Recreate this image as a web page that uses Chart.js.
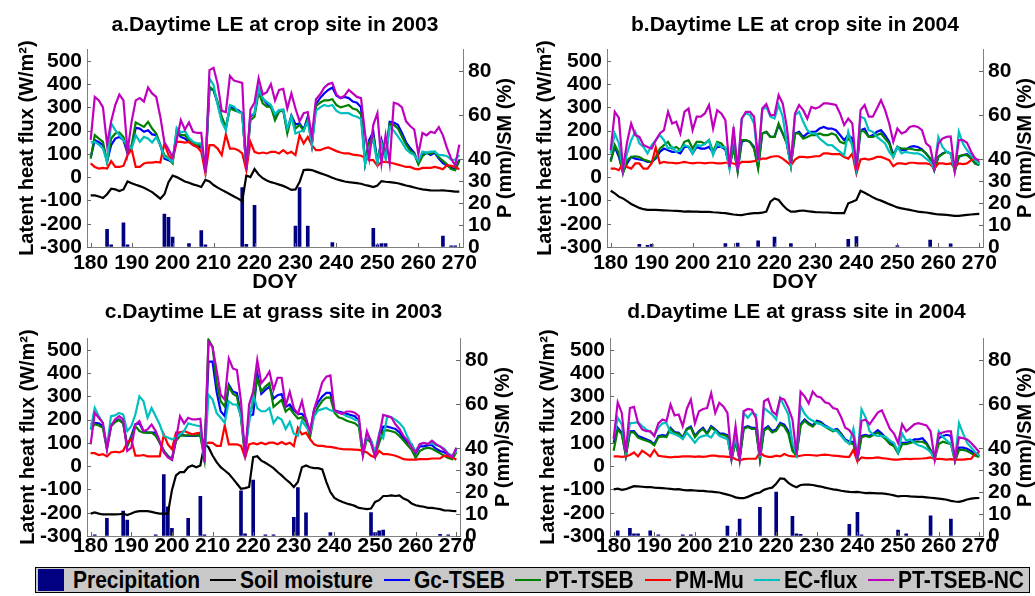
<!DOCTYPE html>
<html><head><meta charset="utf-8">
<script src="https://cdn.jsdelivr.net/npm/chart.js@4"></script>
<style>
body{margin:0;background:#fff;width:1035px;height:596px;overflow:hidden;position:relative;font-family:"Liberation Sans",Arial,sans-serif}
.panel{position:absolute}
#legend{position:absolute;left:35px;top:567px;width:995px;height:26px;background:#c8c8c8;border:1px solid #000;box-sizing:border-box}
.lt{position:absolute;top:0;height:24px;line-height:24px;font-weight:bold;font-size:24px;white-space:nowrap;transform:scaleX(0.875);transform-origin:left center;color:#000}
.ln{position:absolute;top:11px;height:2px;width:26px}
</style></head><body>
<div class="panel" style="left:0;top:0;width:520px;height:296px"><canvas id="ca"></canvas></div>
<div class="panel" style="left:517px;top:0;width:518px;height:296px"><canvas id="cb"></canvas></div>
<div class="panel" style="left:0;top:296px;width:520px;height:269px"><canvas id="cc"></canvas></div>
<div class="panel" style="left:517px;top:296px;width:518px;height:269px"><canvas id="cd"></canvas></div>
<div id="legend">
  <div style="position:absolute;left:2px;top:1px;width:26px;height:22px;background:#000080"></div>
  <div class="lt" style="left:37px">Precipitation</div>
  <div class="ln" style="left:174px;background:#000"></div>
  <div class="lt" style="left:204px">Soil moisture</div>
  <div class="ln" style="left:348px;background:#0000ff"></div>
  <div class="lt" style="left:378px">Gc-TSEB</div>
  <div class="ln" style="left:479px;background:#008000"></div>
  <div class="lt" style="left:509px">PT-TSEB</div>
  <div class="ln" style="left:609px;background:#ff0000"></div>
  <div class="lt" style="left:639px">PM-Mu</div>
  <div class="ln" style="left:718px;background:#00bfbf"></div>
  <div class="lt" style="left:748px">EC-flux</div>
  <div class="ln" style="left:832px;background:#bf00bf"></div>
  <div class="lt" style="left:862px">PT-TSEB-NC</div>
</div>
<script>
// ---------- categories / ticks ----------
const doy = [];
for (let d = 180; d <= 270; d++) doy.push(d);
const xTicks = [180,190,200,210,220,230,240,250,260,270];
const leTicks = [-300,-200,-100,0,100,200,300,400,500];
const pTicks = [0,10,20,30,40,60,80];

// ---------- panel a: crop site 2003 ----------
const gcA = [85,159,150,138,66,138,166,173,159,102,
130,212,209,195,202,184,181,138,80,73,
66,195,173,166,152,138,130,130,37,381,
374,317,245,209,303,295,288,274,44,260,
274,381,338,317,300,265,288,290,202,265,
227,231,205,260,140,315,340,360,375,385,
350,340,345,340,325,320,300,60,160,195,
65,160,90,238,235,225,190,150,125,105,
60,95,105,95,105,80,60,50,40,35,
75];
const ptA = [80,181,166,152,66,166,188,192,173,109,
138,235,226,216,238,209,188,138,95,80,
59,202,181,181,159,145,138,138,37,389,
374,324,260,216,295,288,281,274,44,245,
260,367,317,303,303,245,281,288,188,260,
209,225,200,250,140,305,320,330,330,335,
310,300,305,310,295,290,270,60,150,175,
65,150,85,230,225,210,175,140,115,100,
55,90,105,100,110,85,70,55,35,30,
70];
const pmA = [59,44,37,40,37,69,44,44,49,95,
120,44,44,59,63,63,66,63,145,95,
73,152,152,149,152,138,130,109,16,138,
138,123,95,183,123,123,116,102,30,152,
109,102,106,102,109,109,102,116,102,109,
95,181,145,173,138,116,116,123,128,120,
112,106,102,102,97,95,92,83,73,73,
49,66,66,63,59,54,49,44,44,37,
34,40,40,40,44,40,34,52,49,44,
34];
const ecA = [150,152,140,123,66,231,202,181,159,138,
123,181,152,173,166,149,173,138,87,80,
66,212,192,198,169,152,145,145,37,424,
396,310,238,202,310,303,281,274,44,267,
274,381,338,324,310,270,288,290,209,260,
188,195,200,240,140,285,300,310,305,310,
285,275,275,275,265,260,250,55,130,160,
60,145,80,215,200,175,150,120,105,95,
70,110,105,110,110,95,95,90,75,75,
95];
const ncA = [160,345,330,300,140,240,310,355,330,110,
240,330,340,325,385,360,345,260,150,120,
85,160,245,205,235,195,190,190,20,460,
470,400,285,280,435,415,410,405,30,290,
320,425,355,365,400,330,375,380,295,360,
295,240,275,280,175,335,355,385,400,405,
355,340,350,375,360,345,340,185,80,225,
275,60,180,60,320,315,300,240,220,205,
100,190,180,195,190,215,180,125,80,50,
140];
const smA = [23.5,23.5,23.0,22.3,24.0,26.5,26.2,25.5,26.2,29.8,
29.0,28.3,27.7,27.0,26.0,25.0,23.5,22.0,24.0,29.5,
32.5,31.8,30.8,29.8,29.2,28.5,28.0,27.3,30.5,29.8,
28.2,27.0,26.0,25.0,24.0,23.0,22.0,20.8,32.5,31.8,
35.5,33.0,31.3,30.3,29.5,29.0,28.4,27.8,27.0,26.0,
26.2,29.5,35.0,35.2,35.0,34.3,33.6,33.0,32.3,31.5,
30.8,30.3,29.8,29.5,29.3,29.1,28.8,28.2,27.8,27.3,
28.0,30.0,29.7,29.5,29.3,29.0,28.5,28.0,27.6,27.1,
26.6,26.2,26.0,25.8,25.7,25.7,25.8,25.6,25.4,25.2,
25.2];
const rainDayA = [184,185,188,189,198,199,200,204,207,208,217,218,220,230,231,233,239,249,250,251,252,266,268,269];
const rainA    = [8,1,11,1,15,13.5,4.5,1.5,7.5,1,27,1.2,19,9.5,27,9.5,2,8.5,1,1.5,1.5,5,0.5,0.5];

// ---------- panel b: crop site 2004 ----------
const gcB = [73,130,87,23,59,87,80,76,73,66,
66,80,109,123,116,109,109,102,130,130,
102,130,123,123,130,105,130,130,119,44,
130,30,152,159,152,130,44,188,195,173,
173,224,188,145,52,188,195,173,188,195,
195,209,216,209,209,202,181,159,181,166,
37,202,209,173,181,195,202,181,152,95,
130,116,116,130,133,130,119,102,80,30,
87,102,109,102,30,87,95,99,80,59,
52];
const ptB = [66,138,102,16,73,87,90,87,76,70,
63,87,123,138,152,123,130,116,152,159,
123,152,152,145,159,109,152,145,123,44,
130,23,159,159,152,123,37,188,195,173,
173,231,188,145,47,188,188,166,173,181,
181,188,181,181,188,181,152,145,166,145,
37,202,195,173,173,181,188,166,145,87,
130,123,123,123,119,116,116,102,80,30,
87,99,109,102,23,90,95,95,80,59,
52];
const pmB = [37,37,30,59,44,37,59,59,37,37,
60,128,60,66,62,62,59,62,66,62,
59,62,62,59,62,62,59,59,62,62,
59,52,66,66,66,69,73,80,80,87,
90,90,80,66,52,76,87,87,85,87,
90,90,102,102,99,99,99,87,80,102,
16,76,80,76,80,87,87,80,73,47,
59,59,56,62,62,59,59,59,56,37,
59,59,56,59,44,59,56,59,73,80,
62];
const ecB = [102,188,145,30,102,159,195,145,130,102,
138,159,181,159,123,130,109,116,138,130,
102,138,135,142,159,95,145,130,128,37,
195,30,252,274,267,231,66,288,303,260,
252,310,260,145,52,267,281,238,202,188,
188,166,152,138,138,123,109,95,195,130,
37,260,252,202,195,173,159,145,109,87,
130,102,109,105,102,102,95,80,66,37,
173,130,109,102,30,195,145,116,95,73,
56];
const ncB = [116,281,255,37,150,231,181,173,138,130,
123,159,188,202,281,231,238,188,281,295,
202,260,260,274,310,209,288,274,245,44,
216,30,252,281,281,260,73,295,314,267,
267,353,317,216,59,274,310,288,252,302,
295,302,317,317,314,310,274,224,252,231,
30,288,310,260,260,295,331,288,231,152,
209,188,195,216,220,216,202,145,130,44,
145,166,173,175,30,159,159,148,109,80,
73];
const smB = [25.6,24.4,22.9,22.1,20.9,19.6,18.7,17.8,17.2,16.9,
16.9,16.9,16.8,16.7,16.6,16.5,16.4,16.3,16.1,16.2,
16.1,16.1,16.0,16.0,16.0,15.8,15.7,15.5,15.4,15.1,
14.8,14.6,14.5,14.9,15.2,15.4,15.4,15.6,16.1,20.6,
22.1,21.4,19.1,17.2,16.1,16.1,16.4,16.6,16.3,16.1,
15.9,15.8,15.7,15.7,15.5,15.4,15.4,15.4,19.9,20.6,
21.4,25.6,24.7,23.7,22.6,21.7,21.1,20.3,19.5,18.8,
18.0,17.6,17.2,16.9,16.5,16.1,15.9,15.7,15.4,15.1,
14.8,14.7,14.6,14.4,14.2,14.2,14.4,14.6,14.8,15.0,
15.1];
const rainDayB = [187,189,190,208,211,216,220,224,238,240,250,258,263];
const rainB    = [1.2,0.8,1.2,1.5,1.8,2.8,4.5,1.5,3.5,4.7,0.6,3.2,1.4];

// ---------- panel c: grass site 2003 ----------
const gcC = [180,186,184,172,80,175,194,201,186,87,
130,180,184,151,144,144,144,101,66,45,
30,116,144,132,130,130,130,134,45,449,
449,320,236,215,350,321,314,215,59,215,
222,399,311,328,342,290,305,310,255,265,
240,225,225,205,140,245,275,300,315,315,
240,235,230,225,220,215,195,55,140,110,
55,120,170,170,165,160,145,120,100,95,
55,85,85,90,90,75,65,60,50,40,
75];
const ptC = [158,180,175,165,73,170,189,198,184,87,
123,172,151,144,144,144,130,101,66,42,
28,108,130,132,132,132,132,132,30,545,
513,357,279,257,342,311,300,208,38,222,
265,378,321,342,357,255,270,285,235,250,
225,205,210,190,125,220,255,280,295,295,
230,210,205,195,190,185,170,45,120,100,
45,100,150,155,150,145,130,110,90,70,
35,65,75,80,75,65,55,45,35,30,
60];
const pmC = [56,56,48,52,42,59,62,59,66,101,
116,45,45,48,42,42,42,42,137,94,
73,144,144,151,144,137,141,144,95,101,
100,87,87,175,94,94,94,87,38,94,
99,94,101,94,101,101,94,104,94,101,
87,165,137,144,116,94,87,87,84,83,
80,76,73,72,72,71,70,66,59,45,
38,66,52,52,49,45,38,30,28,28,
28,30,30,30,33,33,33,45,42,38,
28];
const ecC = [158,250,215,186,80,215,218,229,222,151,
172,222,300,279,208,250,215,179,130,123,
116,123,137,151,184,179,175,172,16,307,
286,229,208,186,279,265,265,215,66,186,
307,250,236,236,250,185,210,200,160,190,
140,130,195,170,145,215,240,245,250,240,
235,230,225,215,210,200,195,60,130,110,
60,140,120,215,210,200,185,165,125,90,
65,95,100,95,100,90,85,75,55,45,
65];
const ncC = [94,229,208,186,73,172,201,215,201,66,
80,179,194,151,158,179,151,108,59,38,
28,116,215,184,208,201,201,204,16,534,
513,413,307,286,463,420,413,279,38,265,
321,456,357,378,406,328,380,380,260,320,
250,225,280,200,150,245,300,360,385,390,
240,230,225,235,235,230,215,50,150,100,
40,130,220,215,210,180,160,130,110,80,
60,95,100,95,110,95,85,70,50,40,
80];
const smC = [10.2,10.7,10.2,9.8,9.8,9.8,9.8,9.9,10.2,9.5,
10.2,11.0,11.3,11.3,11.3,11.0,10.5,10.2,10.2,10.2,
20.8,27.6,29.1,29.1,31.3,32.1,31.3,32.1,41.9,40.4,
36.6,33.6,31.3,29.8,28.3,26.1,23.8,21.5,21.8,22.3,
35.9,36.3,34.3,33.3,32.1,30.9,29.1,27.6,25.8,24.3,
22.3,24.6,31.3,32.1,31.3,30.9,30.9,30.3,24.6,20.0,
17.3,16.3,15.5,14.8,14.3,13.7,12.8,12.5,12.2,12.5,
15.5,16.3,18.2,18.2,18.5,18.2,18.5,17.0,16.3,14.8,
14.0,13.6,13.3,12.8,12.8,12.5,12.2,11.7,11.6,11.4,
11.3];
const rainDayC = [181,184,188,189,196,198,199,200,204,207,208,217,218,220,223,225,230,231,233,239,249,250,251,252,266,268];
const rainC    = [0.5,8,11.3,7.2,0.5,28,13.3,3.5,8,18,0.5,20.5,1,25.5,0.5,0.5,8.5,22,10.5,1.5,10.7,1.5,2.3,2.7,0.8,0.5];

// ---------- panel d: grass site 2004 ----------
const gcD = [101,165,144,45,150,151,130,123,116,108,
94,130,133,130,165,147,144,123,161,170,
130,151,165,141,172,158,141,140,133,30,
108,30,165,172,165,165,30,158,172,151,
158,186,179,151,73,50,180,200,185,175,
195,190,175,165,155,160,140,115,105,105,
30,130,135,130,140,155,140,120,100,90,
60,100,100,105,115,115,120,100,70,30,
120,130,135,130,25,80,80,75,65,50,
45];
const ptD = [66,158,137,45,145,145,123,116,110,103,
90,125,128,125,160,142,140,120,158,165,
125,147,160,138,168,153,137,135,128,30,
105,28,160,168,160,160,28,153,165,145,
152,180,170,140,65,45,175,195,180,170,
190,185,170,160,150,155,135,110,100,95,
30,125,130,125,135,145,130,115,95,85,
55,95,95,100,105,105,105,95,65,30,
95,105,100,95,20,70,70,65,55,45,
40];
const pmD = [42,42,40,42,48,59,42,66,55,42,
70,45,42,40,38,40,40,42,42,42,
40,42,40,42,45,45,42,42,40,40,
30,25,30,32,32,32,59,45,40,40,
45,42,52,45,42,42,45,48,48,47,
45,48,50,48,45,44,42,40,40,70,
20,38,35,35,36,38,35,33,30,28,
28,30,32,30,32,32,33,35,38,30,
32,30,28,30,28,28,28,30,32,55,
58];
const ecD = [123,208,179,66,185,186,189,172,158,147,
133,165,184,186,144,137,130,116,144,123,
101,123,130,133,123,151,130,123,116,45,
123,38,229,208,229,222,38,250,236,222,
201,293,257,222,101,50,260,225,205,195,
185,180,170,165,155,150,130,110,95,160,
40,245,210,150,135,130,130,125,110,100,
60,140,110,115,100,90,85,75,60,30,
150,125,110,95,30,185,140,100,80,60,
45];
const ncD = [116,274,229,59,250,255,186,158,151,151,
130,184,201,194,265,218,222,172,246,286,
184,236,246,250,314,229,272,257,229,38,
172,30,236,246,243,208,45,279,289,236,
222,293,286,250,201,50,320,300,270,320,
300,295,275,270,250,245,210,165,155,130,
40,195,200,180,205,230,240,200,160,140,
100,180,150,165,180,185,180,175,150,30,
140,145,150,150,30,125,120,115,100,80,
60];
const smD = [21.2,21.5,21.0,21.3,22.0,22.7,22.6,22.4,22.2,22.3,
22.0,21.9,21.8,21.6,21.4,21.2,21.3,21.0,20.8,20.9,
20.7,20.5,20.5,20.3,20.2,20.0,19.8,19.3,18.8,18.3,
17.6,17.2,17.2,17.8,18.6,19.4,19.8,21.0,21.6,22.0,
23.8,26.2,26.0,24.2,23.0,22.2,23.2,23.4,23.4,23.2,
22.8,22.5,22.0,21.6,21.2,21.0,20.6,20.3,20.1,20.0,
20.1,19.8,19.5,19.6,19.5,19.4,19.4,19.2,18.9,18.5,
18.0,18.2,18.2,18.0,17.9,17.8,17.8,17.6,17.4,17.2,
17.0,16.8,16.5,16.0,15.7,15.5,16.0,16.6,17.0,17.2,
17.3];
const rainDayD = [181,184,185,186,189,191,197,199,208,211,216,220,224,225,226,238,240,241,250,252,258,263];
const rainD    = [2.3,3.5,1,1,2.4,0.5,0.5,0.5,4.5,7.7,13,20,9,1,0.8,5.3,10.8,0.5,2.7,1,9.2,7.7];

// ---------- drawing ----------
const FONT = '"Liberation Sans", Arial, Helvetica, sans-serif';
Chart.defaults.font.family = FONT;
Chart.defaults.color = '#000';

const pts = arr => arr.map((v, i) => ({x: doy[i], y: v}));

const rightTitle = {
  id: 'rightTitle',
  afterDraw(chart, args, opts) {
    const {ctx, chartArea} = chart;
    ctx.save();
    ctx.translate(opts.x, (chartArea.top + chartArea.bottom) / 2);
    ctx.rotate(-Math.PI / 2);
    ctx.font = 'bold 20px ' + FONT;
    ctx.fillStyle = '#000';
    ctx.textAlign = 'center';
    ctx.textBaseline = 'middle';
    ctx.fillText(opts.text, 0, 0);
    ctx.restore();
  }
};
const inwardTicks = {
  id: 'inwardTicks',
  afterDatasetsDraw(chart) {
    const {ctx, chartArea: {left, right, bottom}, scales} = chart;
    ctx.save();
    ctx.strokeStyle = '#666';
    ctx.lineWidth = 1;
    ctx.beginPath();
    scales.y.ticks.forEach(t => { const p = Math.round(scales.y.getPixelForValue(t.value)) + 0.5; ctx.moveTo(left, p); ctx.lineTo(left + 4, p); });
    scales.y2.ticks.forEach(t => { const p = Math.round(scales.y2.getPixelForValue(t.value)) + 0.5; ctx.moveTo(right, p); ctx.lineTo(right - 4, p); });
    scales.x.ticks.forEach(t => { const p = Math.round(scales.x.getPixelForValue(t.value)) + 0.5; ctx.moveTo(p, bottom); ctx.lineTo(p, bottom - 4); });
    ctx.stroke();
    ctx.restore();
  }
};

function lineDs(label, data, color, order, axis) {
  return {type: 'line', label, data: pts(data), borderColor: color, backgroundColor: color,
          borderWidth: 2.2, pointRadius: 0, tension: 0, fill: false, order, yAxisID: axis || 'y'};
}

function build(id, p) {
  const datasets = [
    lineDs('PT-TSEB-NC', p.nc, '#bf00bf', 0),
    lineDs('EC-flux', p.ec, '#00bfbf', 1),
    lineDs('PM-Mu', p.pm, '#ff0000', 2),
    lineDs('PT-TSEB', p.pt, '#008000', 3),
    lineDs('Gc-TSEB', p.gc, '#0000ff', 4),
    lineDs('Soil moisture', p.sm, '#000000', 5, 'y2'),
    {type: 'bar', label: 'Precipitation', data: p.rainDays.map((d, i) => ({x: d, y: p.rain[i]})),
     backgroundColor: '#000080', borderWidth: 0, barThickness: 3, order: 6, yAxisID: 'y2'}
  ];
  const tickFont = {size: 21, weight: 'bold', lineHeight: 1};
  const axisBorder = {display: true, color: '#808080', width: 1};
  const noGrid = {display: true, drawOnChartArea: false, drawTicks: false};
  return new Chart(document.getElementById(id), {
    type: 'line',
    data: {datasets},
    plugins: [rightTitle, inwardTicks],
    options: {
      responsive: true, maintainAspectRatio: false, animation: false,
      layout: {padding: 0},
      plugins: {
        legend: {display: false},
        tooltip: {enabled: false},
        title: {display: true, text: p.title, fullSize: false, color: '#000',
                font: {size: 21, weight: 'bold'}, padding: {top: p.tTop, bottom: p.tBot}},
        rightTitle: {x: p.rtX, text: 'P (mm)/SM (%)'}
      },
      scales: {
        x: {type: 'linear', position: 'bottom', min: 179.1, max: 270.9, offset: false,
            afterBuildTicks: s => { s.ticks = xTicks.map(v => ({value: v})); },
            afterFit: s => { s.height = p.bottomH; },
            grid: noGrid, border: axisBorder,
            ticks: {font: tickFont, color: '#000', padding: p.xPad, maxRotation: 0, autoSkip: false},
            title: {display: p.doy, text: 'DOY', color: '#000', font: {size: 21, weight: 'bold'}, padding: {top: 0, bottom: 1}}},
        y: {type: 'linear', position: 'left', min: -300, max: 550,
            afterBuildTicks: s => { s.ticks = leTicks.map(v => ({value: v})); },
            afterFit: s => { s.width = p.leftW; },
            grid: noGrid, border: axisBorder,
            ticks: {font: tickFont, color: '#000', padding: 5},
            title: {display: true, text: 'Latent heat flux (W/m²)', color: '#000',
                    font: {size: 20, weight: 'bold'}, padding: {top: p.yPad, bottom: 0}}},
        y2: {type: 'linear', position: 'right', min: 0, max: 90,
             afterBuildTicks: s => { s.ticks = pTicks.map(v => ({value: v})); },
             afterFit: s => { s.width = p.rightW; },
             grid: noGrid, border: axisBorder,
             ticks: {font: tickFont, color: '#000', padding: 5}}
      }
    }
  });
}

build('ca', {title: 'a.Daytime LE at crop site in 2003', gc: gcA, pt: ptA, pm: pmA, ec: ecA, nc: ncA, sm: smA,
  rainDays: rainDayA, rain: rainA, leftW: 87, rightW: 57, bottomH: 49, tTop: 13, tBot: 11,
  xPad: 6, doy: true, rtX: 505, yPad: 15});
build('cb', {title: 'b.Daytime LE at crop site in 2004', gc: gcB, pt: ptB, pm: pmB, ec: ecB, nc: ncB, sm: smB,
  rainDays: rainDayB, rain: rainB, leftW: 90, rightW: 52, bottomH: 49, tTop: 13, tBot: 11,
  xPad: 6, doy: true, rtX: 508, yPad: 16});
build('cc', {title: 'c.Daytime LE at grass site in 2003', gc: gcC, pt: ptC, pm: pmC, ec: ecC, nc: ncC, sm: smC,
  rainDays: rainDayC, rain: rainC, leftW: 87, rightW: 60, bottomH: 29, tTop: 4, tBot: 13,
  xPad: 0, doy: false, rtX: 503, yPad: 16});
build('cd', {title: 'd.Daytime LE at grass site in 2004', gc: gcD, pt: ptD, pm: pmD, ec: ecD, nc: ncD, sm: smD,
  rainDays: rainDayD, rain: rainD, leftW: 93, rightW: 52, bottomH: 29, tTop: 4, tBot: 13,
  xPad: 0, doy: false, rtX: 508, yPad: 19});
</script>
</body></html>
